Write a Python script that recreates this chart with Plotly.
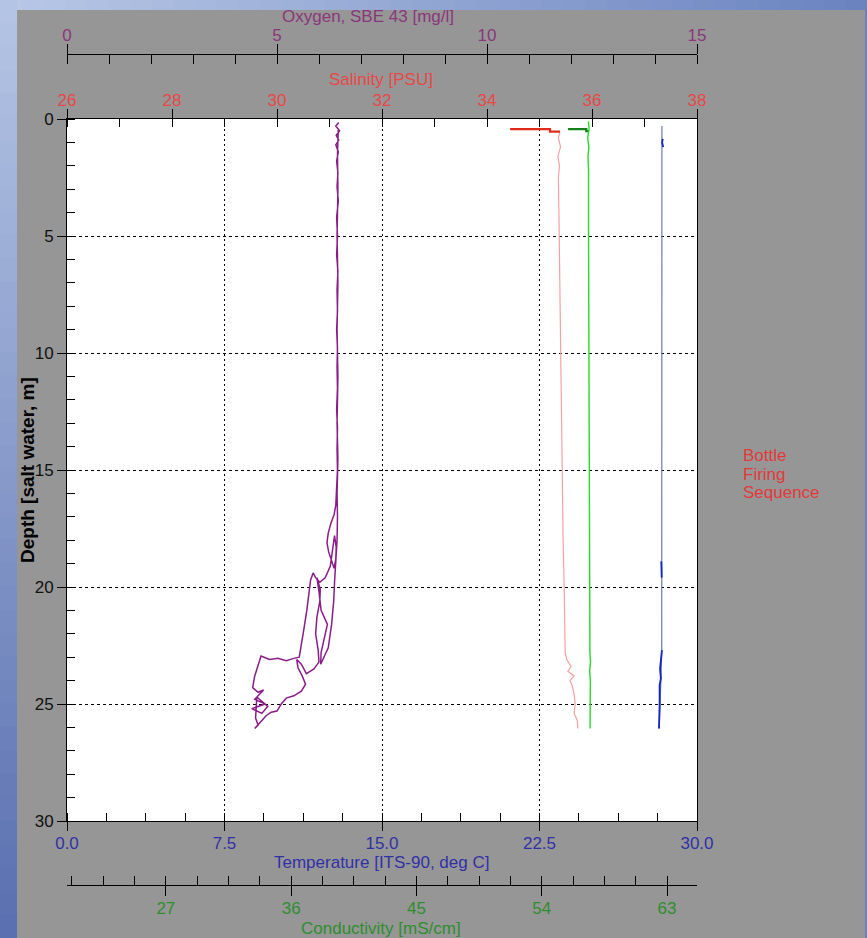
import plotly.graph_objects as go

# ---------------- CTD profile data ----------------
# Oxygen, SBE 43 [mg/l] versus depth [m]
oxy_depth = [0.15, 0.3, 0.5, 0.7, 0.9, 1.1, 1.4, 1.8, 2.3, 2.9, 3.5, 4.2, 5.0, 5.8, 6.5, 7.3,
             8.2, 9.0, 9.8, 10.6, 11.5, 12.4, 13.2, 14.1, 15.0, 15.8, 16.5, 16.9, 17.3, 17.7,
             18.1, 18.5, 18.9, 19.2, 18.8, 18.3, 17.8, 18.4, 19.1, 19.6, 19.8, 19.6, 19.4, 19.7,
             20.3, 21.0, 21.8, 22.5, 23.0, 23.05, 23.15, 23.05, 23.1, 22.95, 23.3, 23.8, 24.3,
             24.5, 24.4, 24.8, 25.0, 25.2, 25.4, 25.1, 24.7, 25.6, 25.9, 26.05, 25.8, 25.5,
             25.35, 25.3, 25.0, 24.75, 24.65, 24.45, 24.15, 23.8, 23.45, 23.1, 23.3, 23.7, 23.5,
             23.2, 22.7, 22.0, 21.3, 20.6, 20.1, 19.6, 20.2, 21.0, 21.6, 22.2, 22.8, 23.3, 22.6,
             21.6, 20.6, 19.8, 19.0, 18.0, 17.0, 16.0, 14.5, 13.0, 11.0, 9.0, 7.0, 5.0, 3.0,
             1.5, 0.4]
oxy_value = [6.47, 6.40, 6.49, 6.41, 6.47, 6.40, 6.46, 6.42, 6.45, 6.43, 6.46, 6.42, 6.44, 6.42,
             6.45, 6.43, 6.44, 6.42, 6.44, 6.43, 6.44, 6.42, 6.44, 6.43, 6.44, 6.42, 6.40, 6.36,
             6.28, 6.22, 6.19, 6.23, 6.30, 6.36, 6.40, 6.41, 6.37, 6.33, 6.27, 6.15, 6.02, 5.92,
             5.86, 5.80, 5.76, 5.71, 5.64, 5.58, 5.53, 5.40, 5.22, 5.02, 4.82, 4.62, 4.56, 4.47,
             4.42, 4.55, 4.68, 4.47, 4.72, 4.40, 4.64, 4.78, 4.52, 4.49, 4.55, 4.47, 4.60, 4.74,
             4.86, 5.00, 5.10, 5.22, 5.40, 5.58, 5.68, 5.60, 5.50, 5.47, 5.58, 5.70, 5.88, 6.00,
             5.98, 5.92, 5.95, 6.02, 6.03, 5.95, 6.00, 6.05, 6.20, 6.12, 6.05, 6.04, 6.22, 6.30,
             6.35, 6.37, 6.40, 6.43, 6.44, 6.43, 6.45, 6.43, 6.45, 6.43, 6.45, 6.43, 6.45, 6.44,
             6.46]

# Salinity [PSU]: surface soak segment and main profile
sal_surf_depth = [0.43, 0.43, 0.54, 0.54]
sal_surf_value = [34.44, 35.20, 35.20, 35.39]
sal_depth = [0.55, 0.8, 1.2, 1.6, 2.0, 2.5, 4.0, 6.0, 8.0, 10.0, 12.0, 14.0, 16.0, 18.0, 20.0,
             21.5, 22.8, 23.1, 23.4, 23.6, 23.8, 24.0, 24.2, 24.6, 25.0, 25.4, 25.7, 26.05]
sal_value = [35.39, 35.36, 35.40, 35.35, 35.38, 35.36, 35.37, 35.38, 35.39, 35.40, 35.41, 35.42,
             35.43, 35.45, 35.47, 35.48, 35.49, 35.52, 35.60, 35.54, 35.66, 35.58, 35.62, 35.66,
             35.68, 35.66, 35.72, 35.73]

# Conductivity [mS/cm]: surface soak segment and main profile
cond_surf_depth = [0.43, 0.43, 0.52, 0.52]
cond_surf_value = [55.89, 57.20, 57.20, 57.33]
cond_depth = [0.1, 0.4, 0.8, 1.2, 1.6, 2.2, 5.0, 10.0, 15.0, 18.0, 20.0, 22.8, 23.2, 23.6, 24.0,
              25.0, 26.05]
cond_value = [57.35, 57.40, 57.30, 57.38, 57.32, 57.36, 57.36, 57.38, 57.40, 57.42, 57.44, 57.46,
              57.50, 57.44, 57.49, 57.47, 57.47]

# Temperature [ITS-90, deg C]: full profile and highlighted scans
temp_depth = [0.3, 2.0, 10.0, 18.8, 22.7, 24.0, 26.05]
temp_value = [28.33, 28.33, 28.33, 28.32, 28.32, 28.28, 28.20]
temp_hi_depth = [0.85, 1.0, 1.2, None, 18.9, 19.6, None, 22.7, 23.1, 23.5, 23.9, 24.2, 25.0, 26.05]
temp_hi_value = [28.37, 28.34, 28.39, None, 28.30, 28.32, None, 28.33, 28.28, 28.24, 28.28, 28.22,
                 28.22, 28.19]

# Axis ranges and tick labels
depth_range = [30, 0]
temp_range = [0, 30]
sal_range = [26, 38]
oxy_range = [0, 15]
cond_range = [19.9, 65.15]
temp_ticks = [0, 7.5, 15, 22.5, 30]
cond_ticks = [27, 36, 45, 54, 63]

# ---------------- page geometry ----------------
W, H = 867, 938
ML, MR, MT, MB = 67, 170, 40, 40
PW, PH = W - ML - MR, H - MT - MB


def px(x):
    return (x - ML) / PW


def py(y):
    return (H - MB - y) / PH


FONT = "Liberation Sans, Arial, sans-serif"
C_OXY = "#8a367c"
C_SAL = "#e84848"
C_TEMP = "#3131a6"
C_COND = "#2e8e2e"
GRAY = "#969696"

fig = go.Figure()

fig.add_trace(go.Scatter(x=oxy_value, y=oxy_depth, xaxis="x3", yaxis="y", mode="lines",
                         line=dict(color="#8a1c8a", width=1.5), name="Oxygen"))
fig.add_trace(go.Scatter(x=sal_value, y=sal_depth, xaxis="x2", yaxis="y", mode="lines",
                         line=dict(color="#f2a2a2", width=1.2), name="Salinity"))
fig.add_trace(go.Scatter(x=sal_surf_value, y=sal_surf_depth, xaxis="x2", yaxis="y", mode="lines",
                         line=dict(color="#e02a1a", width=2.2), name="Salinity (surface)"))
fig.add_trace(go.Scatter(x=cond_value, y=cond_depth, xaxis="x4", yaxis="y", mode="lines",
                         line=dict(color="#24dc24", width=1.4), name="Conductivity"))
fig.add_trace(go.Scatter(x=cond_surf_value, y=cond_surf_depth, xaxis="x4", yaxis="y", mode="lines",
                         line=dict(color="#12821a", width=2.2), name="Conductivity (surface)"))
fig.add_trace(go.Scatter(x=temp_value, y=temp_depth, xaxis="x", yaxis="y", mode="lines",
                         line=dict(color="#6c7ab8", width=1.2), name="Temperature"))
fig.add_trace(go.Scatter(x=temp_hi_value, y=temp_hi_depth, xaxis="x", yaxis="y", mode="lines",
                         line=dict(color="#1424c4", width=1.8), connectgaps=False,
                         name="Temperature (scans)"))

tick_font = lambda c: dict(family=FONT, size=17, color=c)
y_lo, y_hi = py(821), py(119)
oxy_pos, cond_pos = py(54), py(885)

# inward half of the crossing major ticks (unlabelled companion axes)
companion = dict(showticklabels=False, ticks="inside", tickcolor="black", ticklen=9,
                 showgrid=False, showline=False, zeroline=False)

fig.update_layout(
    width=W, height=H,
    margin=dict(l=ML, r=MR, t=MT, b=MB, autoexpand=False),
    paper_bgcolor=GRAY, plot_bgcolor="white",
    showlegend=False,
    font=dict(family=FONT, size=17, color="black"),
    yaxis=dict(domain=[y_lo, y_hi], range=depth_range, dtick=5, tick0=0,
               ticks="outside", ticklen=9, tickcolor="black", tickwidth=1,
               minor=dict(dtick=1, ticks="inside", ticklen=8, tickcolor="black"),
               showgrid=True, gridcolor="black", gridwidth=1, griddash="3px,3px",
               showline=True, linecolor="black", linewidth=1, mirror=True,
               zeroline=False, tickfont=tick_font("#111111")),
    xaxis=dict(anchor="y", side="bottom", range=temp_range, tickvals=temp_ticks,
               tickformat=".1f", ticks="outside", ticklen=9, tickcolor="black",
               minor=dict(dtick=1.875, tick0=0, ticks="inside", ticklen=8, tickcolor="black"),
               showgrid=True, gridcolor="black", gridwidth=1, griddash="2px,3px",
               showline=True, linecolor="black", linewidth=1, zeroline=False,
               ticklabelstandoff=-2, tickfont=tick_font(C_TEMP)),
    xaxis2=dict(anchor="y", overlaying="x", side="top", range=sal_range, dtick=2, tick0=26,
                ticks="outside", ticklen=9, tickcolor="black",
                minor=dict(dtick=1, ticks="inside", ticklen=8, tickcolor="black"),
                showgrid=False, showline=True, linecolor="black", linewidth=1, zeroline=False,
                ticklabelstandoff=-4, tickfont=tick_font(C_SAL)),
    xaxis3=dict(anchor="free", position=oxy_pos, overlaying="x", side="top", range=oxy_range,
                dtick=5, tick0=0, ticks="outside", ticklen=10, tickcolor="black",
                minor=dict(dtick=1, ticks="inside", ticklen=9, tickcolor="black"),
                showgrid=False, showline=True, linecolor="black", linewidth=1, zeroline=False,
                ticklabelstandoff=-4, tickfont=tick_font(C_OXY)),
    xaxis4=dict(anchor="free", position=cond_pos, overlaying="x", side="bottom",
                range=cond_range, tickvals=cond_ticks, ticks="outside", ticklen=10,
                tickcolor="black",
                minor=dict(dtick=2.25, tick0=0, ticks="inside", ticklen=9, tickcolor="black"),
                showgrid=False, showline=True, linecolor="black", linewidth=1, zeroline=False,
                ticklabelstandoff=-2, tickfont=tick_font(C_COND)),
    xaxis5=dict(anchor="y", overlaying="x", side="top", range=sal_range, dtick=2, tick0=26,
                **companion),
    xaxis6=dict(anchor="free", position=oxy_pos, overlaying="x", side="top", range=oxy_range,
                dtick=5, tick0=0, **companion),
    xaxis7=dict(anchor="free", position=cond_pos, overlaying="x", side="bottom",
                range=cond_range, tickvals=cond_ticks, **companion),
)

# axis titles
titles = [
    ("Oxygen, SBE 43 [mg/l]", 368, 16, C_OXY),
    ("Salinity [PSU]", 381, 80, C_SAL),
    ("Temperature [ITS-90, deg C]", 381, 862, C_TEMP),
    ("Conductivity [mS/cm]", 381, 928, C_COND),
]
for text, x, y, c in titles:
    fig.add_annotation(text=text, x=px(x), y=py(y), xref="paper", yref="paper",
                       showarrow=False, xanchor="center", yanchor="middle",
                       font=dict(family=FONT, size=17, color=c))

fig.add_annotation(text="<b>Depth [salt water, m]</b>", x=px(27), y=py(470),
                   xref="paper", yref="paper",
                   showarrow=False, textangle=-90, xanchor="center", yanchor="middle",
                   font=dict(family=FONT, size=19, color="black"))

for i, word in enumerate(["Bottle", "Firing", "Sequence"]):
    fig.add_annotation(text=word, x=px(741), y=py(455 + 19 * i), xref="paper", yref="paper",
                       showarrow=False, xanchor="left", yanchor="middle",
                       font=dict(family=FONT, size=17, color="#e23a3a"))


# blue gradient frame around the gray panel
def mix(c1, c2, t):
    a = [int(c1[i:i + 2], 16) for i in (1, 3, 5)]
    b = [int(c2[i:i + 2], 16) for i in (1, 3, 5)]
    return "rgb(%d,%d,%d)" % tuple(round(a[k] + (b[k] - a[k]) * t) for k in range(3))


N = 40
for i in range(N):
    x0 = i * W / N
    fig.add_shape(type="rect", xref="paper", yref="paper",
                  x0=px(x0), x1=px(x0 + W / N + 1), y0=py(10), y1=py(0),
                  line=dict(width=0), fillcolor=mix("#b8c7e6", "#6b84c0", i / (N - 1)),
                  layer="below")
    y0 = i * H / N
    fig.add_shape(type="rect", xref="paper", yref="paper",
                  x0=px(0), x1=px(17), y0=py(y0 + H / N + 1), y1=py(y0),
                  line=dict(width=0), fillcolor=mix("#b4c4e4", "#5a70b0", i / (N - 1)),
                  layer="below")
fig.add_shape(type="rect", xref="paper", yref="paper", x0=px(865), x1=px(W), y0=py(H), y1=py(0),
              line=dict(width=0), fillcolor="#6a82bc", layer="below")

fig.write_html("out.html")
